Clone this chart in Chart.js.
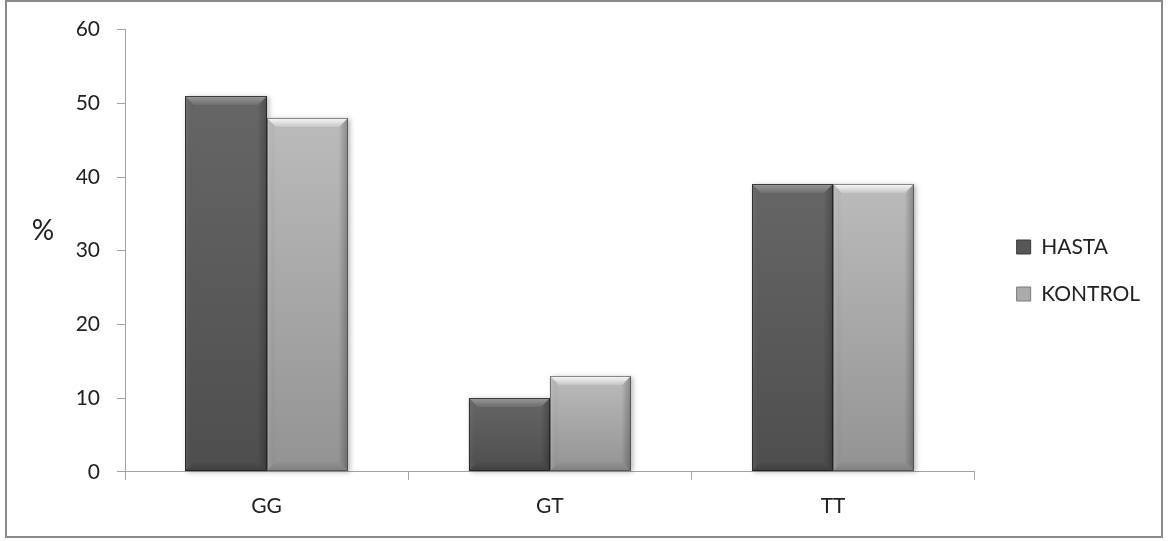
<!DOCTYPE html>
<html>
<head>
<meta charset="utf-8">
<script src="https://cdn.jsdelivr.net/npm/chart.js@4.4.1/dist/chart.umd.min.js"></script>
<style>
  html, body { margin: 0; padding: 0; background: #fff; }
  #wrap { width: 1168px; height: 541px; position: relative; }
</style>
</head>
<body>
<div id="wrap"><canvas id="c" width="1168" height="541"></canvas></div>
<script>
// Genotype distribution (%) for patients vs. controls
const categories = ['GG', 'GT', 'TT'];
const seriesNames = ['HASTA', 'KONTROL'];
const hastaValues = [51, 10, 39];
const kontrolValues = [48, 13, 39];
const yTickValues = [0, 10, 20, 30, 40, 50, 60];
const yAxisLabel = '%';

const FONT = 'Lato, "Open Sans", sans-serif';
const TEXT = '#222222';
const AXIS = '#a3a3a3';

// Beveled "3D" bar face drawn over each bar element
const bevelBars = {
  id: 'bevelBars',
  afterDatasetsDraw(chart) {
    const ctx = chart.ctx;
    const poly = (pts, fill) => {
      ctx.beginPath();
      ctx.moveTo(pts[0][0], pts[0][1]);
      for (let i = 1; i < pts.length; i++) ctx.lineTo(pts[i][0], pts[i][1]);
      ctx.closePath();
      ctx.fillStyle = fill;
      ctx.fill();
    };
    chart.data.datasets.forEach((ds, di) => {
      const meta = chart.getDatasetMeta(di);
      if (meta.hidden) return;
      const p = ds.bevel;
      meta.data.forEach(el => {
        const { x, y, base, width } = el.getProps(['x', 'y', 'base', 'width'], true);
        const l = Math.round(x - width / 2), r = Math.round(x + width / 2);
        const t = Math.round(y), b = Math.round(base);
        const w = r - l, h = b - t;
        const bv = Math.min(9, h / 2, w / 2);
        ctx.save();
        ctx.shadowColor = 'rgba(0,0,0,0.28)';
        ctx.shadowBlur = 5;
        ctx.shadowOffsetX = 2;
        ctx.shadowOffsetY = 1;
        const face = ctx.createLinearGradient(0, t, 0, b);
        face.addColorStop(0, p.faceTop);
        face.addColorStop(1, p.faceBottom);
        ctx.fillStyle = face;
        ctx.fillRect(l, t, w, h);
        ctx.shadowColor = 'transparent';

        let g = ctx.createLinearGradient(0, t, 0, t + bv);
        g.addColorStop(0, p.topHi); g.addColorStop(1, p.topLo);
        poly([[l, t], [r, t], [r - bv, t + bv], [l + bv, t + bv]], g);

        g = ctx.createLinearGradient(l, 0, l + bv, 0);
        g.addColorStop(0, p.leftHi); g.addColorStop(1, 'rgba(0,0,0,0)');
        poly([[l, t], [l + bv, t + bv], [l + bv, b - bv], [l, b]], g);

        g = ctx.createLinearGradient(r, 0, r - bv, 0);
        g.addColorStop(0, p.rightDk); g.addColorStop(1, 'rgba(0,0,0,0.02)');
        poly([[r, t], [r, b], [r - bv, b - bv], [r - bv, t + bv]], g);

        g = ctx.createLinearGradient(0, b, 0, b - bv);
        g.addColorStop(0, p.bottomDk); g.addColorStop(1, 'rgba(0,0,0,0.02)');
        poly([[l, b], [l + bv, b - bv], [r - bv, b - bv], [r, b]], g);

        ctx.strokeStyle = p.edge;
        ctx.lineWidth = 1;
        ctx.strokeRect(l + 0.5, t + 0.5, w - 1, h - 1);
        ctx.restore();
      });
    });
  }
};

// Center the legend block vertically on the whole canvas
const legendCentering = {
  id: 'legendCentering',
  afterLayout(chart) {
    const lg = chart.legend;
    if (!lg) return;
    lg.top = 0;
    lg.bottom = chart.height;
    lg.height = chart.height;
  }
};

// Outer frame and the horizontal "%" axis caption
const frameAndCaption = {
  id: 'frameAndCaption',
  afterDraw(chart) {
    const ctx = chart.ctx;
    ctx.save();
    ctx.strokeStyle = '#8a8a8a';
    ctx.lineWidth = 2;
    ctx.strokeRect(6, 1, 1156, 536);
    ctx.fillStyle = TEXT;
    ctx.font = '28px ' + FONT;
    ctx.textAlign = 'center';
    ctx.textBaseline = 'middle';
    ctx.fillText(yAxisLabel, 43, 231);
    ctx.restore();
  }
};

new Chart(document.getElementById('c'), {
  type: 'bar',
  data: {
    labels: categories,
    datasets: [
      {
        label: seriesNames[0],
        data: hastaValues,
        backgroundColor: '#575757',
        borderColor: '#3a3a3a',
        borderWidth: 1,
        bevel: {
          faceTop: '#666666', faceBottom: '#4e4e4e',
          topHi: 'rgba(255,255,255,0.34)', topLo: 'rgba(255,255,255,0.06)',
          leftHi: 'rgba(255,255,255,0.07)', rightDk: 'rgba(0,0,0,0.24)',
          bottomDk: 'rgba(0,0,0,0.2)', edge: 'rgba(30,30,30,0.75)'
        }
      },
      {
        label: seriesNames[1],
        data: kontrolValues,
        backgroundColor: '#ababab',
        borderColor: '#7a7a7a',
        borderWidth: 1,
        bevel: {
          faceTop: '#bbbbbb', faceBottom: '#939393',
          topHi: 'rgba(255,255,255,0.92)', topLo: 'rgba(255,255,255,0.18)',
          leftHi: 'rgba(255,255,255,0.14)', rightDk: 'rgba(0,0,0,0.27)',
          bottomDk: 'rgba(0,0,0,0.14)', edge: 'rgba(60,60,60,0.6)'
        }
      }
    ]
  },
  options: {
    responsive: false,
    animation: false,
    devicePixelRatio: 1,
    categoryPercentage: 0.573,
    barPercentage: 1,
    layout: { padding: { left: 0, top: 29, right: 18, bottom: 8 } },
    plugins: {
      legend: {
        position: 'right',
        labels: {
          boxWidth: 14,
          boxHeight: 14,
          padding: 26,
          color: TEXT,
          font: { family: FONT, size: 21 }
        }
      },
      tooltip: { enabled: false },
      title: { display: false }
    },
    scales: {
      x: {
        grid: { display: true, drawOnChartArea: false, drawTicks: true, tickLength: 8, color: AXIS, offset: true },
        border: { display: true, color: AXIS, width: 1 },
        ticks: { color: TEXT, padding: 14, font: { family: FONT, size: 21 } }
      },
      y: {
        min: 0,
        max: 60,
        afterFit(scale) { scale.width = 125; },
        afterBuildTicks(scale) { scale.ticks = yTickValues.map(v => ({ value: v })); },
        grid: { display: true, drawOnChartArea: false, drawTicks: true, tickLength: 8, color: AXIS },
        border: { display: true, color: AXIS, width: 1 },
        ticks: { color: TEXT, padding: 17, font: { family: FONT, size: 21 } }
      },
      gap: {
        position: 'right',
        display: true,
        afterFit(scale) { scale.width = 16; },
        grid: { display: false },
        border: { display: false },
        ticks: { display: false }
      }
    }
  },
  plugins: [bevelBars, legendCentering, frameAndCaption]
});
</script>
</body>
</html>
